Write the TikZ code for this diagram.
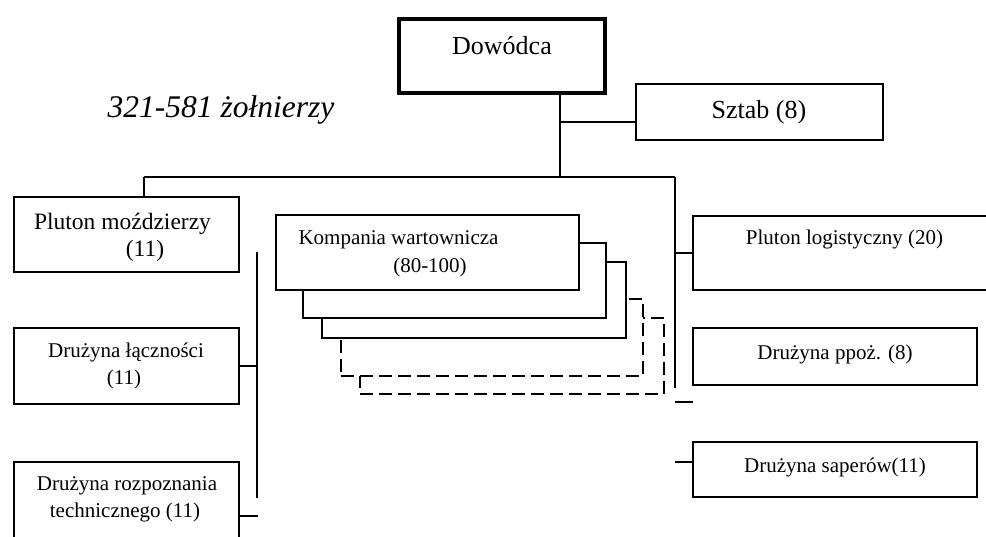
\documentclass[tikz,border=0pt]{standalone}
\usepackage{fontspec}
\setmainfont{Liberation Serif}
\begin{document}
\begin{tikzpicture}[x=1pt,y=-1pt,
  unit/.style={draw,line width=1.5pt,fill=white,inner sep=0pt,outer sep=0pt},
  ghost/.style={unit,dash pattern=on 13pt off 6pt},
  wire/.style={line width=1.5pt},
  lbl/.style={anchor=base,inner sep=0pt},
  fbig/.style={font=\fontsize{26}{30}\selectfont},
  fmid/.style={font=\fontsize{23.5}{28}\selectfont},
  fsm/.style={font=\fontsize{21}{25}\selectfont}]
\useasboundingbox (0,0) rectangle (986,537);

% command and staff
\node[unit,line width=4pt,minimum width=206pt,minimum height=74pt] (dow) at (502,56) {};
\node[lbl,fbig] (tdow) at (502,55) {Dowódca};
\node[unit,minimum width=247pt,minimum height=56pt] (sztab) at (759.5,112) {};
\node[lbl,fbig] (tsztab) at (759,119) {Sztab (8)};
\node[lbl,font=\fontsize{31.5}{36}\selectfont\itshape] (total) at (221,118) {321-581 żołnierzy};

% left column
\node[unit,minimum width=225pt,minimum height=75pt] (plm) at (126.5,234.5) {};
\node[lbl,fmid] (tplm1) at (122.5,230) {Pluton moździerzy};
\node[lbl,fmid] (tplm2) at (145,257) {(11)};
\node[unit,minimum width=225pt,minimum height=76pt] (dl) at (126.5,366) {};
\node[lbl,fsm] (tdl1) at (126,358) {Drużyna łączności};
\node[lbl,fsm] (tdl2) at (124,385) {(11)};
\node[unit,minimum width=225pt,minimum height=83pt] (drt) at (126.5,503.5) {};
\node[lbl,fsm] (tdrt1) at (127,490) {Drużyna rozpoznania};
\node[lbl,fsm] (tdrt2) at (125,517) {technicznego (11)};

% stacked guard companies, back to front
\node[ghost,minimum width=304pt,minimum height=76pt] (kw5) at (512,356) {};
\node[ghost,minimum width=302pt,minimum height=77pt] (kw4) at (492,337.5) {};
\node[unit,minimum width=304pt,minimum height=76pt] (kw3) at (474,300) {};
\node[unit,minimum width=303pt,minimum height=75pt] (kw2) at (454.5,280.5) {};
\node[unit,minimum width=303pt,minimum height=75pt] (kw1) at (427.5,252.5) {};
\node[lbl,fsm] (tkw1) at (398.5,245) {Kompania wartownicza};
\node[lbl,fsm] (tkw2) at (430,273) {(80-100)};

% right column
\node[unit,minimum width=297pt,minimum height=74pt] (plog) at (841.5,253) {};
\node[lbl,fsm] (tplog) at (844.5,245) {Pluton logistyczny (20)};
\node[unit,minimum width=284pt,minimum height=57pt] (ppoz) at (835,356.5) {};
\node[lbl,fsm] (tppoz) at (835,360) {Drużyna ppoż. (8)};
\node[unit,minimum width=284pt,minimum height=55pt] (sap) at (835,469.5) {};
\node[lbl,fsm] (tsap) at (835,472) {Drużyna saperów(11)};

% junction points
\coordinate (jtop) at (560,177);
\coordinate (jsz) at (560,122);
\coordinate (jl) at (144,177);
\coordinate (jr) at (675,177);
\coordinate (jrend) at (675,388);
\coordinate (jrlog) at (675,253);
\coordinate (tick) at (675,402);
\coordinate (jsap) at (675,462);
\coordinate (lbus1) at (257,252);
\coordinate (lbus2) at (257,498);
\coordinate (jdl) at (257,366);
\coordinate (jdrt) at (258,516);

% connectors
\draw[wire] (dow.south -| jtop) -- (jtop);
\draw[wire] (jsz) -- (sztab.west |- jsz);
\draw[wire] (jl) -- (jr);
\draw[wire] (jl) -- (plm.north -| jl);
\draw[wire] (jr) -- (jrend);
\draw[wire] (jrlog) -- (plog.west |- jrlog);
\draw[wire] (tick) -- (plog.west |- tick);
\draw[wire] (jsap) -- (sap.west |- jsap);
\draw[wire] (lbus1) -- (lbus2);
\draw[wire] (dl.east |- jdl) -- (jdl);
\draw[wire] (drt.east |- jdrt) -- (jdrt);
\end{tikzpicture}
\end{document}
